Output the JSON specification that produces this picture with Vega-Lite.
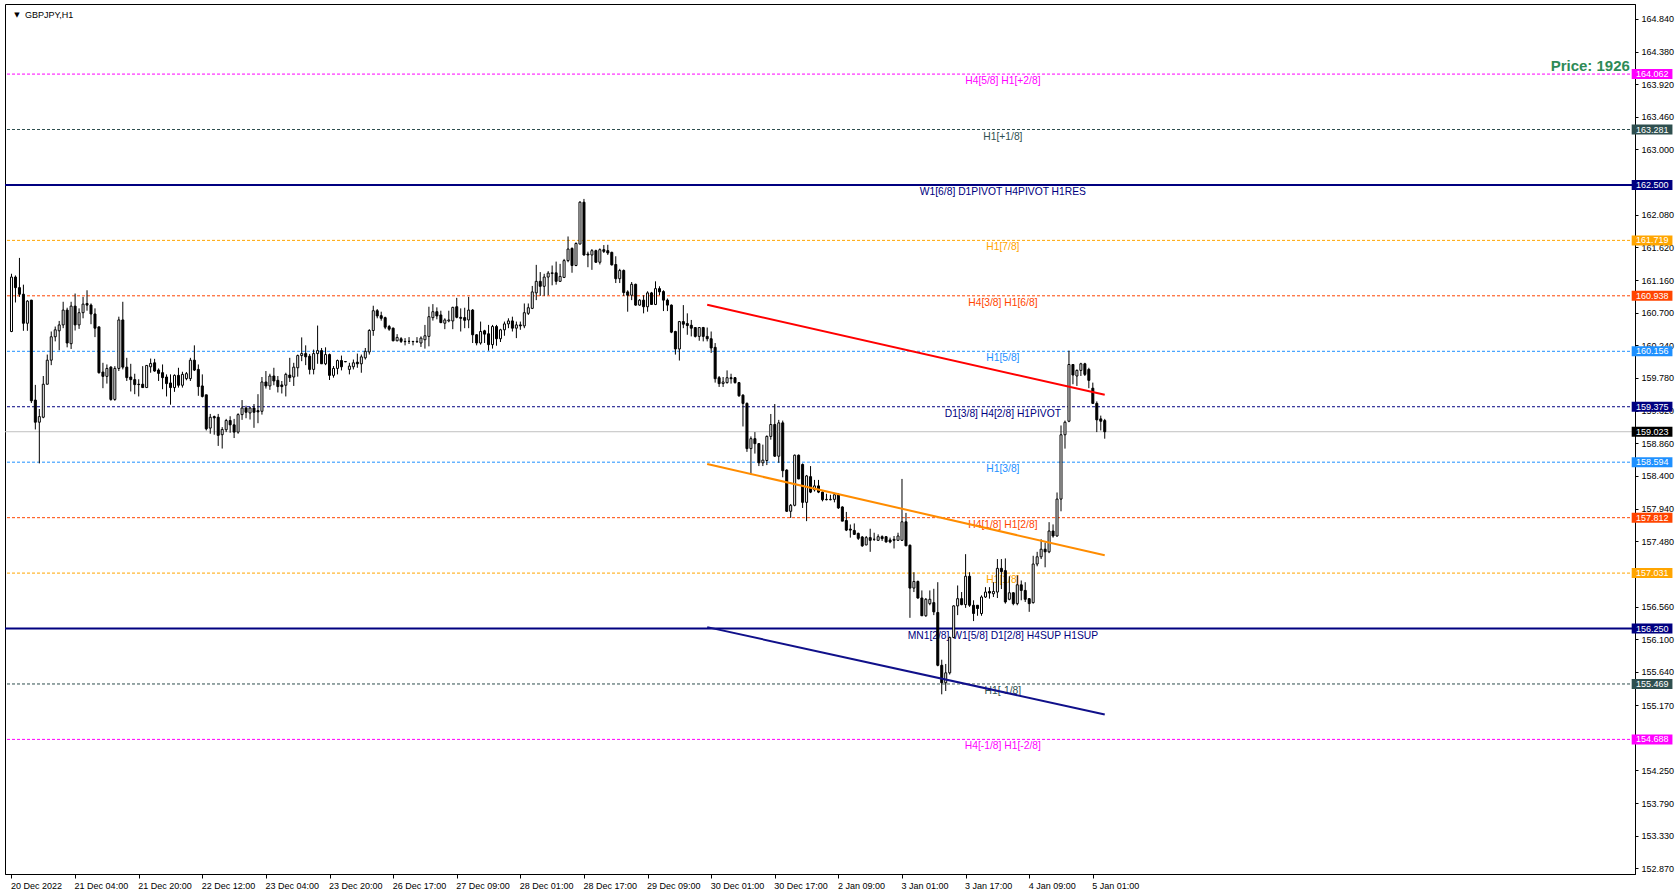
{
  "$schema": "https://vega.github.io/schema/vega-lite/v6.json",
  "width": 1630,
  "height": 870,
  "autosize": {"type": "none"},
  "padding": {"left": 5, "top": 4, "right": 45, "bottom": 21},
  "background": "white",
  "config": {
    "view": {"stroke": "black", "strokeWidth": 1},
    "font": "Liberation Sans",
    "axisX": {"title": null, "grid": false,
      "labelExpr": "['20 Dec 2022','21 Dec 04:00','21 Dec 20:00','22 Dec 12:00','23 Dec 04:00','23 Dec 20:00','26 Dec 17:00','27 Dec 09:00','28 Dec 01:00','28 Dec 17:00','29 Dec 09:00','30 Dec 01:00','30 Dec 17:00','2 Jan 09:00','3 Jan 01:00','3 Jan 17:00','4 Jan 09:00','5 Jan 01:00'][round((datum.value - 1) / 16)]",
      "labelAlign": "left", "labelBaseline": "top", "labelPadding": 3, "labelOffset": -1,
      "labelFont": "Liberation Sans", "labelFontSize": 9, "labelColor": "black",
      "labelOverlap": false, "labelFlush": false, "labelBound": false,
      "tickSize": 4, "tickColor": "black", "domainColor": "black"},
    "axisY": {"title": null, "grid": false,
      "format": ".3f", "labelAlign": "left", "labelBaseline": "middle", "labelPadding": 3,
      "labelFont": "Liberation Sans", "labelFontSize": 9, "labelColor": "black",
      "labelOverlap": false, "labelFlush": false, "labelBound": false,
      "tickSize": 3, "tickColor": "black", "domainColor": "black"}
  },
  "datasets": {
    "levels": [
      {"p": 164.062, "name": "H4[5/8] H1[+2/8]"},
      {"p": 163.281, "name": "H1[+1/8]"},
      {"p": 162.500, "name": "W1[6/8] D1PIVOT H4PIVOT H1RES"},
      {"p": 161.719, "name": "H1[7/8]"},
      {"p": 160.938, "name": "H4[3/8] H1[6/8]"},
      {"p": 160.156, "name": "H1[5/8]"},
      {"p": 159.375, "name": "D1[3/8] H4[2/8] H1PIVOT"},
      {"p": 158.594, "name": "H1[3/8]"},
      {"p": 157.812, "name": "H4[1/8] H1[2/8]"},
      {"p": 157.031, "name": "H1[1/8]"},
      {"p": 156.250, "name": "MN1[2/8] W1[5/8] D1[2/8] H4SUP H1SUP"},
      {"p": 155.469, "name": "H1[-1/8]"},
      {"p": 154.688, "name": "H4[-1/8] H1[-2/8]"}
    ],
    "bid": [{"p": 159.023}],
    "trends": [
      {"line": "red", "i": 176, "p": 160.811},
      {"line": "red", "i": 276, "p": 159.543},
      {"line": "orange", "i": 176, "p": 158.568},
      {"line": "orange", "i": 276, "p": 157.282},
      {"line": "blue", "i": 176, "p": 156.27},
      {"line": "blue", "i": 276, "p": 155.04}
    ],
    "candles": [
      {"i":1,"o":160.435,"h":161.249,"l":160.426,"c":161.202},
      {"i":2,"o":161.202,"h":161.225,"l":160.844,"c":161.053},
      {"i":3,"o":161.053,"h":161.472,"l":160.923,"c":160.960},
      {"i":4,"o":160.960,"h":161.095,"l":160.445,"c":160.551},
      {"i":5,"o":160.551,"h":160.877,"l":160.445,"c":160.863},
      {"i":6,"o":160.877,"h":160.880,"l":159.427,"c":159.459},
      {"i":7,"o":159.469,"h":159.683,"l":159.055,"c":159.157},
      {"i":8,"o":159.157,"h":159.343,"l":158.577,"c":159.236},
      {"i":9,"o":159.227,"h":159.808,"l":159.213,"c":159.692},
      {"i":10,"o":159.692,"h":160.110,"l":159.692,"c":160.031},
      {"i":11,"o":160.031,"h":160.435,"l":159.961,"c":160.361},
      {"i":12,"o":160.361,"h":160.505,"l":160.296,"c":160.459},
      {"i":13,"o":160.445,"h":160.584,"l":160.170,"c":160.528},
      {"i":14,"o":160.528,"h":160.854,"l":160.482,"c":160.737},
      {"i":15,"o":160.737,"h":160.770,"l":160.212,"c":160.273},
      {"i":16,"o":160.263,"h":160.854,"l":160.189,"c":160.793},
      {"i":17,"o":160.793,"h":160.970,"l":160.449,"c":160.528},
      {"i":18,"o":160.528,"h":160.761,"l":160.472,"c":160.700},
      {"i":19,"o":160.700,"h":160.923,"l":160.621,"c":160.821},
      {"i":20,"o":160.830,"h":161.016,"l":160.728,"c":160.807},
      {"i":21,"o":160.807,"h":160.830,"l":160.538,"c":160.682},
      {"i":22,"o":160.682,"h":160.761,"l":160.356,"c":160.482},
      {"i":23,"o":160.500,"h":160.505,"l":159.841,"c":159.855},
      {"i":24,"o":159.864,"h":159.994,"l":159.636,"c":159.803},
      {"i":25,"o":159.803,"h":159.971,"l":159.701,"c":159.915},
      {"i":26,"o":159.933,"h":159.947,"l":159.459,"c":159.478},
      {"i":27,"o":159.478,"h":159.947,"l":159.459,"c":159.915},
      {"i":28,"o":159.915,"h":160.644,"l":159.878,"c":160.598},
      {"i":29,"o":160.598,"h":160.854,"l":159.901,"c":159.933},
      {"i":30,"o":159.933,"h":160.064,"l":159.738,"c":159.785},
      {"i":31,"o":159.794,"h":159.980,"l":159.590,"c":159.757},
      {"i":32,"o":159.757,"h":159.840,"l":159.552,"c":159.687},
      {"i":33,"o":159.692,"h":159.762,"l":159.520,"c":159.687},
      {"i":34,"o":159.692,"h":159.947,"l":159.645,"c":159.645},
      {"i":35,"o":159.645,"h":159.961,"l":159.645,"c":159.957},
      {"i":36,"o":159.938,"h":160.054,"l":159.854,"c":159.985},
      {"i":37,"o":159.994,"h":160.050,"l":159.868,"c":159.878},
      {"i":38,"o":159.892,"h":159.915,"l":159.738,"c":159.845},
      {"i":39,"o":159.855,"h":159.971,"l":159.622,"c":159.785},
      {"i":40,"o":159.794,"h":159.831,"l":159.520,"c":159.701},
      {"i":41,"o":159.710,"h":159.831,"l":159.404,"c":159.645},
      {"i":42,"o":159.645,"h":159.831,"l":159.585,"c":159.817},
      {"i":43,"o":159.817,"h":159.924,"l":159.645,"c":159.678},
      {"i":44,"o":159.678,"h":159.868,"l":159.645,"c":159.831},
      {"i":45,"o":159.771,"h":159.864,"l":159.748,"c":159.841},
      {"i":46,"o":159.771,"h":160.064,"l":159.738,"c":160.031},
      {"i":47,"o":160.031,"h":160.240,"l":159.878,"c":159.892},
      {"i":48,"o":159.901,"h":159.971,"l":159.529,"c":159.659},
      {"i":49,"o":159.668,"h":159.831,"l":159.506,"c":159.520},
      {"i":50,"o":159.543,"h":159.543,"l":159.041,"c":159.064},
      {"i":51,"o":159.074,"h":159.274,"l":158.995,"c":159.227},
      {"i":52,"o":159.236,"h":159.250,"l":158.981,"c":159.218},
      {"i":53,"o":159.227,"h":159.274,"l":158.823,"c":158.972},
      {"i":54,"o":158.981,"h":159.088,"l":158.786,"c":159.055},
      {"i":55,"o":159.051,"h":159.204,"l":159.018,"c":159.181},
      {"i":56,"o":159.181,"h":159.241,"l":159.009,"c":159.120},
      {"i":57,"o":159.120,"h":159.204,"l":158.934,"c":159.018},
      {"i":58,"o":159.018,"h":159.283,"l":158.995,"c":159.264},
      {"i":59,"o":159.264,"h":159.469,"l":159.190,"c":159.357},
      {"i":60,"o":159.357,"h":159.390,"l":159.213,"c":159.297},
      {"i":61,"o":159.288,"h":159.376,"l":159.195,"c":159.357},
      {"i":62,"o":159.357,"h":159.413,"l":159.078,"c":159.297},
      {"i":63,"o":159.320,"h":159.552,"l":159.143,"c":159.302},
      {"i":64,"o":159.311,"h":159.794,"l":159.264,"c":159.724},
      {"i":65,"o":159.724,"h":159.878,"l":159.631,"c":159.668},
      {"i":66,"o":159.668,"h":159.840,"l":159.613,"c":159.808},
      {"i":67,"o":159.808,"h":159.924,"l":159.678,"c":159.738},
      {"i":68,"o":159.747,"h":159.808,"l":159.576,"c":159.659},
      {"i":69,"o":159.682,"h":159.738,"l":159.562,"c":159.659},
      {"i":70,"o":159.678,"h":159.854,"l":159.520,"c":159.831},
      {"i":71,"o":159.822,"h":160.064,"l":159.724,"c":159.785},
      {"i":72,"o":159.794,"h":159.994,"l":159.668,"c":159.933},
      {"i":73,"o":159.924,"h":160.110,"l":159.799,"c":160.096},
      {"i":74,"o":160.096,"h":160.352,"l":160.017,"c":160.124},
      {"i":75,"o":160.124,"h":160.240,"l":159.961,"c":160.078},
      {"i":76,"o":160.087,"h":160.119,"l":159.831,"c":159.901},
      {"i":77,"o":159.901,"h":160.180,"l":159.831,"c":160.124},
      {"i":78,"o":160.124,"h":160.519,"l":159.980,"c":160.166},
      {"i":79,"o":160.166,"h":160.203,"l":159.980,"c":159.980},
      {"i":80,"o":159.980,"h":160.212,"l":159.961,"c":160.110},
      {"i":81,"o":160.110,"h":160.124,"l":159.752,"c":159.817},
      {"i":82,"o":159.817,"h":159.948,"l":159.785,"c":159.915},
      {"i":83,"o":159.915,"h":160.040,"l":159.831,"c":160.026},
      {"i":84,"o":160.026,"h":160.096,"l":159.887,"c":159.938},
      {"i":85,"o":160.012,"h":160.017,"l":160.003,"c":160.008},
      {"i":86,"o":159.901,"h":159.994,"l":159.831,"c":159.948},
      {"i":87,"o":159.938,"h":160.040,"l":159.901,"c":159.994},
      {"i":88,"o":160.003,"h":160.124,"l":159.924,"c":159.980},
      {"i":89,"o":159.980,"h":160.110,"l":159.854,"c":160.078},
      {"i":90,"o":160.064,"h":160.203,"l":160.040,"c":160.156},
      {"i":91,"o":160.147,"h":160.468,"l":160.110,"c":160.449},
      {"i":92,"o":160.449,"h":160.798,"l":160.375,"c":160.728},
      {"i":93,"o":160.728,"h":160.751,"l":160.621,"c":160.654},
      {"i":94,"o":160.658,"h":160.714,"l":160.588,"c":160.621},
      {"i":95,"o":160.630,"h":160.644,"l":160.468,"c":160.496},
      {"i":96,"o":160.505,"h":160.528,"l":160.445,"c":160.468},
      {"i":97,"o":160.482,"h":160.491,"l":160.296,"c":160.305},
      {"i":98,"o":160.305,"h":160.398,"l":160.296,"c":160.352},
      {"i":99,"o":160.333,"h":160.356,"l":160.273,"c":160.296},
      {"i":100,"o":160.296,"h":160.342,"l":160.240,"c":160.292},
      {"i":101,"o":160.296,"h":160.356,"l":160.259,"c":160.296},
      {"i":102,"o":160.296,"h":160.300,"l":160.240,"c":160.292},
      {"i":103,"o":160.292,"h":160.356,"l":160.273,"c":160.296},
      {"i":104,"o":160.273,"h":160.366,"l":160.217,"c":160.342},
      {"i":105,"o":160.319,"h":160.528,"l":160.194,"c":160.375},
      {"i":106,"o":160.366,"h":160.784,"l":160.226,"c":160.644},
      {"i":107,"o":160.630,"h":160.821,"l":160.589,"c":160.714},
      {"i":108,"o":160.714,"h":160.775,"l":160.607,"c":160.654},
      {"i":109,"o":160.668,"h":160.728,"l":160.552,"c":160.561},
      {"i":110,"o":160.552,"h":160.621,"l":160.468,"c":160.598},
      {"i":111,"o":160.584,"h":160.728,"l":160.565,"c":160.598},
      {"i":112,"o":160.584,"h":160.784,"l":160.468,"c":160.775},
      {"i":113,"o":160.784,"h":160.909,"l":160.621,"c":160.635},
      {"i":114,"o":160.635,"h":160.761,"l":160.435,"c":160.621},
      {"i":115,"o":160.631,"h":160.770,"l":160.482,"c":160.593},
      {"i":116,"o":160.598,"h":160.923,"l":160.482,"c":160.737},
      {"i":117,"o":160.737,"h":160.751,"l":160.273,"c":160.389},
      {"i":118,"o":160.389,"h":160.398,"l":160.240,"c":160.273},
      {"i":119,"o":160.273,"h":160.575,"l":160.250,"c":160.435},
      {"i":120,"o":160.445,"h":160.459,"l":160.273,"c":160.398},
      {"i":121,"o":160.403,"h":160.528,"l":160.166,"c":160.250},
      {"i":122,"o":160.250,"h":160.528,"l":160.194,"c":160.505},
      {"i":123,"o":160.505,"h":160.528,"l":160.235,"c":160.333},
      {"i":124,"o":160.333,"h":160.473,"l":160.287,"c":160.459},
      {"i":125,"o":160.459,"h":160.575,"l":160.375,"c":160.542},
      {"i":126,"o":160.542,"h":160.621,"l":160.482,"c":160.584},
      {"i":127,"o":160.584,"h":160.644,"l":160.435,"c":160.482},
      {"i":128,"o":160.482,"h":160.575,"l":160.342,"c":160.528},
      {"i":129,"o":160.528,"h":160.575,"l":160.459,"c":160.514},
      {"i":130,"o":160.514,"h":160.830,"l":160.482,"c":160.700},
      {"i":131,"o":160.691,"h":160.830,"l":160.668,"c":160.770},
      {"i":132,"o":160.761,"h":161.077,"l":160.751,"c":160.993},
      {"i":133,"o":160.979,"h":161.374,"l":160.877,"c":161.142},
      {"i":134,"o":161.142,"h":161.272,"l":160.937,"c":161.072},
      {"i":135,"o":161.072,"h":161.248,"l":160.937,"c":161.202},
      {"i":136,"o":161.202,"h":161.286,"l":160.946,"c":161.258},
      {"i":137,"o":161.253,"h":161.365,"l":161.086,"c":161.262},
      {"i":138,"o":161.262,"h":161.420,"l":161.095,"c":161.142},
      {"i":139,"o":161.142,"h":161.388,"l":161.132,"c":161.211},
      {"i":140,"o":161.197,"h":161.458,"l":161.188,"c":161.434},
      {"i":141,"o":161.434,"h":161.774,"l":161.411,"c":161.597},
      {"i":142,"o":161.606,"h":161.620,"l":161.263,"c":161.365},
      {"i":143,"o":161.365,"h":161.690,"l":161.355,"c":161.676},
      {"i":144,"o":161.667,"h":162.271,"l":161.667,"c":162.257},
      {"i":145,"o":162.257,"h":162.303,"l":161.504,"c":161.513},
      {"i":146,"o":161.527,"h":161.560,"l":161.341,"c":161.513},
      {"i":147,"o":161.513,"h":161.597,"l":161.304,"c":161.574},
      {"i":148,"o":161.574,"h":161.588,"l":161.402,"c":161.411},
      {"i":149,"o":161.411,"h":161.606,"l":161.379,"c":161.588},
      {"i":150,"o":161.588,"h":161.653,"l":161.541,"c":161.564},
      {"i":151,"o":161.574,"h":161.657,"l":161.513,"c":161.541},
      {"i":152,"o":161.550,"h":161.560,"l":161.365,"c":161.374},
      {"i":153,"o":161.379,"h":161.495,"l":161.118,"c":161.179},
      {"i":154,"o":161.179,"h":161.318,"l":161.118,"c":161.295},
      {"i":155,"o":161.295,"h":161.309,"l":160.937,"c":160.984},
      {"i":156,"o":160.993,"h":161.016,"l":160.714,"c":160.946},
      {"i":157,"o":160.946,"h":161.132,"l":160.877,"c":161.100},
      {"i":158,"o":161.100,"h":161.109,"l":160.798,"c":160.807},
      {"i":159,"o":160.807,"h":160.891,"l":160.798,"c":160.877},
      {"i":160,"o":160.877,"h":160.946,"l":160.691,"c":160.784},
      {"i":161,"o":160.784,"h":161.002,"l":160.714,"c":160.979},
      {"i":162,"o":160.979,"h":160.993,"l":160.816,"c":160.816},
      {"i":163,"o":160.816,"h":161.142,"l":160.807,"c":161.039},
      {"i":164,"o":161.039,"h":161.072,"l":160.946,"c":160.993},
      {"i":165,"o":160.998,"h":161.016,"l":160.723,"c":160.877},
      {"i":166,"o":160.877,"h":160.900,"l":160.723,"c":160.807},
      {"i":167,"o":160.807,"h":160.816,"l":160.412,"c":160.426},
      {"i":168,"o":160.435,"h":160.445,"l":160.110,"c":160.189},
      {"i":169,"o":160.189,"h":160.584,"l":160.026,"c":160.575},
      {"i":170,"o":160.575,"h":160.807,"l":160.482,"c":160.538},
      {"i":171,"o":160.547,"h":160.691,"l":160.389,"c":160.519},
      {"i":172,"o":160.523,"h":160.598,"l":160.366,"c":160.482},
      {"i":173,"o":160.491,"h":160.491,"l":160.351,"c":160.366},
      {"i":174,"o":160.366,"h":160.491,"l":160.305,"c":160.491},
      {"i":175,"o":160.491,"h":160.500,"l":160.296,"c":160.366},
      {"i":176,"o":160.366,"h":160.491,"l":160.296,"c":160.333},
      {"i":177,"o":160.333,"h":160.435,"l":160.133,"c":160.203},
      {"i":178,"o":160.212,"h":160.272,"l":159.715,"c":159.770},
      {"i":179,"o":159.784,"h":159.808,"l":159.654,"c":159.701},
      {"i":180,"o":159.701,"h":159.794,"l":159.654,"c":159.724},
      {"i":181,"o":159.715,"h":159.887,"l":159.701,"c":159.784},
      {"i":182,"o":159.784,"h":159.840,"l":159.701,"c":159.770},
      {"i":183,"o":159.784,"h":159.794,"l":159.701,"c":159.715},
      {"i":184,"o":159.715,"h":159.724,"l":159.515,"c":159.529},
      {"i":185,"o":159.538,"h":159.552,"l":159.097,"c":159.422},
      {"i":186,"o":159.422,"h":159.436,"l":158.739,"c":158.785},
      {"i":187,"o":158.785,"h":158.957,"l":158.414,"c":158.925},
      {"i":188,"o":158.925,"h":159.018,"l":158.715,"c":158.855},
      {"i":189,"o":158.855,"h":158.864,"l":158.539,"c":158.585},
      {"i":190,"o":158.585,"h":158.841,"l":158.539,"c":158.623},
      {"i":191,"o":158.618,"h":158.971,"l":158.553,"c":158.957},
      {"i":192,"o":158.957,"h":159.273,"l":158.911,"c":159.125},
      {"i":193,"o":159.125,"h":159.413,"l":158.669,"c":158.678},
      {"i":194,"o":158.678,"h":159.190,"l":158.585,"c":159.148},
      {"i":195,"o":159.148,"h":159.180,"l":158.381,"c":158.474},
      {"i":196,"o":158.483,"h":158.493,"l":157.893,"c":157.902},
      {"i":197,"o":157.902,"h":158.005,"l":157.809,"c":157.986},
      {"i":198,"o":157.986,"h":158.702,"l":157.972,"c":158.692},
      {"i":199,"o":158.692,"h":158.702,"l":158.353,"c":158.358},
      {"i":200,"o":158.562,"h":158.576,"l":157.949,"c":158.028},
      {"i":201,"o":158.028,"h":158.414,"l":157.763,"c":158.400},
      {"i":202,"o":158.390,"h":158.539,"l":158.158,"c":158.172},
      {"i":203,"o":158.205,"h":158.344,"l":158.181,"c":158.260},
      {"i":204,"o":158.260,"h":158.344,"l":158.158,"c":158.172},
      {"i":205,"o":158.172,"h":158.181,"l":158.042,"c":158.065},
      {"i":206,"o":158.070,"h":158.149,"l":158.056,"c":158.065},
      {"i":207,"o":158.065,"h":158.135,"l":158.056,"c":158.070},
      {"i":208,"o":158.070,"h":158.158,"l":158.028,"c":158.135},
      {"i":209,"o":158.135,"h":158.158,"l":157.935,"c":157.949},
      {"i":210,"o":157.963,"h":157.972,"l":157.763,"c":157.763},
      {"i":211,"o":157.772,"h":157.893,"l":157.623,"c":157.637},
      {"i":212,"o":157.651,"h":157.716,"l":157.531,"c":157.637},
      {"i":213,"o":157.632,"h":157.731,"l":157.568,"c":157.577},
      {"i":214,"o":157.591,"h":157.601,"l":157.498,"c":157.521},
      {"i":215,"o":157.540,"h":157.554,"l":157.401,"c":157.415},
      {"i":216,"o":157.428,"h":157.554,"l":157.424,"c":157.531},
      {"i":217,"o":157.531,"h":157.656,"l":157.331,"c":157.493},
      {"i":218,"o":157.507,"h":157.600,"l":157.484,"c":157.507},
      {"i":219,"o":157.493,"h":157.577,"l":157.484,"c":157.544},
      {"i":220,"o":157.544,"h":157.563,"l":157.484,"c":157.517},
      {"i":221,"o":157.544,"h":157.554,"l":157.461,"c":157.470},
      {"i":222,"o":157.498,"h":157.531,"l":157.452,"c":157.470},
      {"i":223,"o":157.507,"h":157.554,"l":157.378,"c":157.493},
      {"i":224,"o":157.493,"h":157.600,"l":157.484,"c":157.554},
      {"i":225,"o":157.493,"h":158.358,"l":157.484,"c":157.754},
      {"i":226,"o":157.754,"h":157.879,"l":157.415,"c":157.415},
      {"i":227,"o":157.424,"h":157.433,"l":156.401,"c":156.820},
      {"i":228,"o":156.820,"h":157.043,"l":156.764,"c":156.913},
      {"i":229,"o":156.913,"h":156.927,"l":156.671,"c":156.680},
      {"i":230,"o":156.680,"h":156.787,"l":156.430,"c":156.430},
      {"i":231,"o":156.430,"h":156.680,"l":156.415,"c":156.662},
      {"i":232,"o":156.601,"h":156.787,"l":156.578,"c":156.662},
      {"i":233,"o":156.615,"h":156.810,"l":156.439,"c":156.485},
      {"i":234,"o":156.476,"h":156.903,"l":155.718,"c":155.732},
      {"i":235,"o":155.732,"h":155.811,"l":155.323,"c":155.486},
      {"i":236,"o":155.486,"h":155.751,"l":155.370,"c":155.626},
      {"i":237,"o":155.626,"h":156.137,"l":155.602,"c":156.123},
      {"i":238,"o":156.123,"h":156.578,"l":156.114,"c":156.569},
      {"i":239,"o":156.569,"h":156.857,"l":156.439,"c":156.671},
      {"i":240,"o":156.671,"h":156.764,"l":156.578,"c":156.587},
      {"i":241,"o":156.587,"h":157.298,"l":156.541,"c":156.987},
      {"i":242,"o":156.987,"h":157.043,"l":156.555,"c":156.578},
      {"i":243,"o":156.578,"h":156.648,"l":156.355,"c":156.462},
      {"i":244,"o":156.578,"h":156.580,"l":156.430,"c":156.532},
      {"i":245,"o":156.462,"h":156.717,"l":156.430,"c":156.694},
      {"i":246,"o":156.694,"h":156.833,"l":156.680,"c":156.764},
      {"i":247,"o":156.773,"h":156.833,"l":156.671,"c":156.750},
      {"i":248,"o":156.740,"h":156.903,"l":156.694,"c":156.773},
      {"i":249,"o":156.764,"h":157.229,"l":156.680,"c":157.098},
      {"i":250,"o":157.098,"h":157.229,"l":156.806,"c":157.052},
      {"i":251,"o":157.066,"h":157.238,"l":156.601,"c":156.624},
      {"i":252,"o":156.662,"h":156.987,"l":156.648,"c":156.754},
      {"i":253,"o":156.754,"h":156.764,"l":156.578,"c":156.601},
      {"i":254,"o":156.601,"h":156.996,"l":156.578,"c":156.866},
      {"i":255,"o":156.866,"h":156.927,"l":156.648,"c":156.787},
      {"i":256,"o":156.787,"h":156.903,"l":156.624,"c":156.662},
      {"i":257,"o":156.671,"h":156.680,"l":156.485,"c":156.601},
      {"i":258,"o":156.615,"h":157.275,"l":156.601,"c":157.159},
      {"i":259,"o":157.159,"h":157.331,"l":157.127,"c":157.261},
      {"i":260,"o":157.261,"h":157.507,"l":157.229,"c":157.368},
      {"i":261,"o":157.368,"h":157.461,"l":157.113,"c":157.331},
      {"i":262,"o":157.331,"h":157.749,"l":157.312,"c":157.624},
      {"i":263,"o":157.624,"h":157.717,"l":157.531,"c":157.554},
      {"i":264,"o":157.554,"h":158.167,"l":157.545,"c":158.074},
      {"i":265,"o":158.074,"h":159.111,"l":157.902,"c":158.980},
      {"i":266,"o":158.980,"h":159.180,"l":158.785,"c":159.157},
      {"i":267,"o":159.171,"h":160.165,"l":159.157,"c":159.970},
      {"i":268,"o":159.970,"h":159.975,"l":159.692,"c":159.822},
      {"i":269,"o":159.808,"h":159.901,"l":159.668,"c":159.887},
      {"i":270,"o":159.887,"h":159.994,"l":159.808,"c":159.980},
      {"i":271,"o":159.980,"h":159.994,"l":159.808,"c":159.831},
      {"i":272,"o":159.901,"h":159.924,"l":159.636,"c":159.747},
      {"i":273,"o":159.636,"h":159.715,"l":159.422,"c":159.422},
      {"i":274,"o":159.422,"h":159.450,"l":159.018,"c":159.190},
      {"i":275,"o":159.204,"h":159.250,"l":159.041,"c":159.171},
      {"i":276,"o":159.180,"h":159.204,"l":158.925,"c":159.023}
    ],
    "notes": [
      {"i": 408.1, "p": 164.175, "t": "Price: 1926"}
    ],
    "head": [
      {"i": 4.4, "p": 164.895, "t": "GBPJPY,H1"}
    ]
  },
  "layer": [
    {
      "data": {"name": "levels"},
      "transform": [{"filter": {"not": {"field": "name", "oneOf": ["W1[6/8] D1PIVOT H4PIVOT H1RES", "MN1[2/8] W1[5/8] D1[2/8] H4SUP H1SUP"]}}}],
      "mark": {"type": "rule", "strokeWidth": 1, "strokeDash": [3, 2]},
      "encoding": {
        "y": {"field": "p", "type": "quantitative", "scale": {"domain": [152.862, 164.979], "nice": false, "zero": false}, "axis": {"orient": "right", "values": [164.84, 164.38, 163.92, 163.46, 163.0, 162.08, 161.62, 161.16, 160.7, 160.24, 159.78, 159.32, 158.86, 158.4, 157.94, 157.48, 156.56, 156.1, 155.64, 155.17, 154.25, 153.79, 153.33, 152.87]}},
        "color": {"field": "name", "type": "nominal", "legend": null,
          "scale": {
            "domain": ["H4[5/8] H1[+2/8]", "H1[+1/8]", "W1[6/8] D1PIVOT H4PIVOT H1RES", "H1[7/8]", "H4[3/8] H1[6/8]", "H1[5/8]", "D1[3/8] H4[2/8] H1PIVOT", "H1[3/8]", "H4[1/8] H1[2/8]", "H1[1/8]", "MN1[2/8] W1[5/8] D1[2/8] H4SUP H1SUP", "H1[-1/8]", "H4[-1/8] H1[-2/8]"],
            "range": ["#FF00FF", "#2F4F4F", "#000080", "#FFA500", "#FF4500", "#1E90FF", "#000080", "#1E90FF", "#FF4500", "#FFA500", "#000080", "#2F4F4F", "#FF00FF"]
          }}
      }
    },
    {
      "data": {"name": "levels"},
      "transform": [{"filter": {"field": "name", "oneOf": ["W1[6/8] D1PIVOT H4PIVOT H1RES", "MN1[2/8] W1[5/8] D1[2/8] H4SUP H1SUP"]}}],
      "mark": {"type": "rule", "strokeWidth": 2},
      "encoding": {
        "y": {"field": "p", "type": "quantitative", "scale": {"domain": [152.862, 164.979], "nice": false, "zero": false}, "axis": {"orient": "right", "values": [164.84, 164.38, 163.92, 163.46, 163.0, 162.08, 161.62, 161.16, 160.7, 160.24, 159.78, 159.32, 158.86, 158.4, 157.94, 157.48, 156.56, 156.1, 155.64, 155.17, 154.25, 153.79, 153.33, 152.87]}},
        "color": {"field": "name", "type": "nominal", "legend": null}
      }
    },
    {
      "data": {"name": "bid"},
      "mark": {"type": "rule", "color": "#C0C0C0", "strokeWidth": 1},
      "encoding": {
        "y": {"field": "p", "type": "quantitative", "scale": {"domain": [152.862, 164.979], "nice": false, "zero": false}, "axis": {"orient": "right", "values": [164.84, 164.38, 163.92, 163.46, 163.0, 162.08, 161.62, 161.16, 160.7, 160.24, 159.78, 159.32, 158.86, 158.4, 157.94, 157.48, 156.56, 156.1, 155.64, 155.17, 154.25, 153.79, 153.33, 152.87]}}
      }
    },
    {
      "data": {"name": "levels"},
      "mark": {"type": "text", "font": "Liberation Sans", "fontSize": 10.3, "align": "center", "baseline": "middle", "dy": 7},
      "encoding": {
        "x": {"datum": 250.375, "type": "quantitative", "scale": {"domain": [0.625, 408.125], "nice": false, "zero": false}, "axis": {"orient": "bottom", "values": [1, 17, 33, 49, 65, 81, 97, 113, 129, 145, 161, 177, 193, 209, 225, 241, 257, 273]}},
        "y": {"field": "p", "type": "quantitative", "scale": {"domain": [152.862, 164.979], "nice": false, "zero": false}, "axis": {"orient": "right", "values": [164.84, 164.38, 163.92, 163.46, 163.0, 162.08, 161.62, 161.16, 160.7, 160.24, 159.78, 159.32, 158.86, 158.4, 157.94, 157.48, 156.56, 156.1, 155.64, 155.17, 154.25, 153.79, 153.33, 152.87]}},
        "text": {"field": "name"},
        "color": {"field": "name", "type": "nominal", "legend": null}
      }
    },
    {
      "data": {"name": "candles"},
      "mark": {"type": "rule", "color": "black", "strokeWidth": 1},
      "encoding": {
        "x": {"field": "i", "type": "quantitative", "scale": {"domain": [0.625, 408.125], "nice": false, "zero": false}, "axis": {"orient": "bottom", "values": [1, 17, 33, 49, 65, 81, 97, 113, 129, 145, 161, 177, 193, 209, 225, 241, 257, 273]}},
        "y": {"field": "l", "type": "quantitative", "scale": {"domain": [152.862, 164.979], "nice": false, "zero": false}, "axis": {"orient": "right", "values": [164.84, 164.38, 163.92, 163.46, 163.0, 162.08, 161.62, 161.16, 160.7, 160.24, 159.78, 159.32, 158.86, 158.4, 157.94, 157.48, 156.56, 156.1, 155.64, 155.17, 154.25, 153.79, 153.33, 152.87]}},
        "y2": {"field": "h"}
      }
    },
    {
      "data": {"name": "candles"},
      "mark": {"type": "bar", "size": 2, "stroke": "black", "strokeWidth": 1},
      "encoding": {
        "x": {"field": "i", "type": "quantitative", "scale": {"domain": [0.625, 408.125], "nice": false, "zero": false}, "axis": {"orient": "bottom", "values": [1, 17, 33, 49, 65, 81, 97, 113, 129, 145, 161, 177, 193, 209, 225, 241, 257, 273]}},
        "y": {"field": "o", "type": "quantitative", "scale": {"domain": [152.862, 164.979], "nice": false, "zero": false}, "axis": {"orient": "right", "values": [164.84, 164.38, 163.92, 163.46, 163.0, 162.08, 161.62, 161.16, 160.7, 160.24, 159.78, 159.32, 158.86, 158.4, 157.94, 157.48, 156.56, 156.1, 155.64, 155.17, 154.25, 153.79, 153.33, 152.87]}},
        "y2": {"field": "c"},
        "fill": {"condition": {"test": "datum.c >= datum.o", "value": "white"}, "value": "black"}
      }
    },
    {
      "data": {"name": "trends"},
      "mark": {"type": "line", "strokeWidth": 2},
      "encoding": {
        "x": {"field": "i", "type": "quantitative", "scale": {"domain": [0.625, 408.125], "nice": false, "zero": false}, "axis": {"orient": "bottom", "values": [1, 17, 33, 49, 65, 81, 97, 113, 129, 145, 161, 177, 193, 209, 225, 241, 257, 273]}},
        "y": {"field": "p", "type": "quantitative", "scale": {"domain": [152.862, 164.979], "nice": false, "zero": false}, "axis": {"orient": "right", "values": [164.84, 164.38, 163.92, 163.46, 163.0, 162.08, 161.62, 161.16, 160.7, 160.24, 159.78, 159.32, 158.86, 158.4, 157.94, 157.48, 156.56, 156.1, 155.64, 155.17, 154.25, 153.79, 153.33, 152.87]}},
        "detail": {"field": "line"},
        "stroke": {"field": "line", "type": "nominal", "legend": null, "scale": {"domain": ["red", "orange", "blue"], "range": ["#FF0000", "#FF8C00", "#10108A"]}}
      }
    },
    {
      "data": {"name": "levels"},
      "mark": {"type": "bar", "size": 10, "clip": false},
      "encoding": {
        "x": {"datum": 408.55, "type": "quantitative", "scale": {"domain": [0.625, 408.125], "nice": false, "zero": false}, "axis": {"orient": "bottom", "values": [1, 17, 33, 49, 65, 81, 97, 113, 129, 145, 161, 177, 193, 209, 225, 241, 257, 273]}},
        "x2": {"datum": 418.8},
        "y": {"field": "p", "type": "quantitative", "scale": {"domain": [152.862, 164.979], "nice": false, "zero": false}, "axis": {"orient": "right", "values": [164.84, 164.38, 163.92, 163.46, 163.0, 162.08, 161.62, 161.16, 160.7, 160.24, 159.78, 159.32, 158.86, 158.4, 157.94, 157.48, 156.56, 156.1, 155.64, 155.17, 154.25, 153.79, 153.33, 152.87]}},
        "color": {"field": "name", "type": "nominal", "legend": null}
      }
    },
    {
      "data": {"name": "levels"},
      "mark": {"type": "text", "clip": false, "font": "Liberation Sans", "fontSize": 9, "align": "left", "baseline": "middle", "color": "white"},
      "encoding": {
        "x": {"datum": 409.625, "type": "quantitative", "scale": {"domain": [0.625, 408.125], "nice": false, "zero": false}, "axis": {"orient": "bottom", "values": [1, 17, 33, 49, 65, 81, 97, 113, 129, 145, 161, 177, 193, 209, 225, 241, 257, 273]}},
        "y": {"field": "p", "type": "quantitative", "scale": {"domain": [152.862, 164.979], "nice": false, "zero": false}, "axis": {"orient": "right", "values": [164.84, 164.38, 163.92, 163.46, 163.0, 162.08, 161.62, 161.16, 160.7, 160.24, 159.78, 159.32, 158.86, 158.4, 157.94, 157.48, 156.56, 156.1, 155.64, 155.17, 154.25, 153.79, 153.33, 152.87]}},
        "text": {"field": "p", "format": ".3f"}
      }
    },
    {
      "data": {"name": "bid"},
      "mark": {"type": "bar", "size": 10, "clip": false, "color": "black"},
      "encoding": {
        "x": {"datum": 408.55, "type": "quantitative", "scale": {"domain": [0.625, 408.125], "nice": false, "zero": false}, "axis": {"orient": "bottom", "values": [1, 17, 33, 49, 65, 81, 97, 113, 129, 145, 161, 177, 193, 209, 225, 241, 257, 273]}},
        "x2": {"datum": 418.8},
        "y": {"field": "p", "type": "quantitative", "scale": {"domain": [152.862, 164.979], "nice": false, "zero": false}, "axis": {"orient": "right", "values": [164.84, 164.38, 163.92, 163.46, 163.0, 162.08, 161.62, 161.16, 160.7, 160.24, 159.78, 159.32, 158.86, 158.4, 157.94, 157.48, 156.56, 156.1, 155.64, 155.17, 154.25, 153.79, 153.33, 152.87]}}
      }
    },
    {
      "data": {"name": "bid"},
      "mark": {"type": "text", "clip": false, "font": "Liberation Sans", "fontSize": 9, "align": "left", "baseline": "middle", "color": "white"},
      "encoding": {
        "x": {"datum": 409.625, "type": "quantitative", "scale": {"domain": [0.625, 408.125], "nice": false, "zero": false}, "axis": {"orient": "bottom", "values": [1, 17, 33, 49, 65, 81, 97, 113, 129, 145, 161, 177, 193, 209, 225, 241, 257, 273]}},
        "y": {"field": "p", "type": "quantitative", "scale": {"domain": [152.862, 164.979], "nice": false, "zero": false}, "axis": {"orient": "right", "values": [164.84, 164.38, 163.92, 163.46, 163.0, 162.08, 161.62, 161.16, 160.7, 160.24, 159.78, 159.32, 158.86, 158.4, 157.94, 157.48, 156.56, 156.1, 155.64, 155.17, 154.25, 153.79, 153.33, 152.87]}},
        "text": {"field": "p", "format": ".3f"}
      }
    },
    {
      "data": {"name": "notes"},
      "mark": {"type": "text", "clip": false, "font": "Liberation Sans", "fontSize": 15, "fontWeight": "bold", "align": "right", "baseline": "middle", "color": "#2E8B57"},
      "encoding": {
        "x": {"field": "i", "type": "quantitative", "scale": {"domain": [0.625, 408.125], "nice": false, "zero": false}, "axis": {"orient": "bottom", "values": [1, 17, 33, 49, 65, 81, 97, 113, 129, 145, 161, 177, 193, 209, 225, 241, 257, 273]}},
        "y": {"field": "p", "type": "quantitative", "scale": {"domain": [152.862, 164.979], "nice": false, "zero": false}, "axis": {"orient": "right", "values": [164.84, 164.38, 163.92, 163.46, 163.0, 162.08, 161.62, 161.16, 160.7, 160.24, 159.78, 159.32, 158.86, 158.4, 157.94, 157.48, 156.56, 156.1, 155.64, 155.17, 154.25, 153.79, 153.33, 152.87]}},
        "text": {"field": "t"}
      }
    },
    {
      "data": {"name": "head"},
      "mark": {"type": "text", "font": "Liberation Sans", "fontSize": 9, "align": "left", "baseline": "middle", "color": "black"},
      "encoding": {
        "x": {"field": "i", "type": "quantitative", "scale": {"domain": [0.625, 408.125], "nice": false, "zero": false}, "axis": {"orient": "bottom", "values": [1, 17, 33, 49, 65, 81, 97, 113, 129, 145, 161, 177, 193, 209, 225, 241, 257, 273]}},
        "y": {"field": "p", "type": "quantitative", "scale": {"domain": [152.862, 164.979], "nice": false, "zero": false}, "axis": {"orient": "right", "values": [164.84, 164.38, 163.92, 163.46, 163.0, 162.08, 161.62, 161.16, 160.7, 160.24, 159.78, 159.32, 158.86, 158.4, 157.94, 157.48, 156.56, 156.1, 155.64, 155.17, 154.25, 153.79, 153.33, 152.87]}},
        "text": {"field": "t"}
      }
    },
    {
      "data": {"name": "head"},
      "mark": {"type": "text", "font": "DejaVu Sans", "fontSize": 7, "align": "center", "baseline": "middle", "color": "black", "dx": -8},
      "encoding": {
        "x": {"field": "i", "type": "quantitative", "scale": {"domain": [0.625, 408.125], "nice": false, "zero": false}, "axis": {"orient": "bottom", "values": [1, 17, 33, 49, 65, 81, 97, 113, 129, 145, 161, 177, 193, 209, 225, 241, 257, 273]}},
        "y": {"field": "p", "type": "quantitative", "scale": {"domain": [152.862, 164.979], "nice": false, "zero": false}, "axis": {"orient": "right", "values": [164.84, 164.38, 163.92, 163.46, 163.0, 162.08, 161.62, 161.16, 160.7, 160.24, 159.78, 159.32, 158.86, 158.4, 157.94, 157.48, 156.56, 156.1, 155.64, 155.17, 154.25, 153.79, 153.33, 152.87]}},
        "text": {"value": "▼"}
      }
    }
  ]
}
